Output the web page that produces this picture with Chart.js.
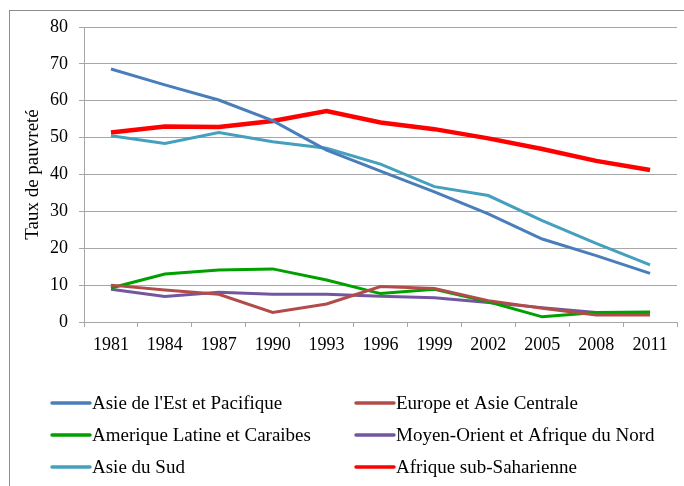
<!DOCTYPE html>
<html>
<head>
<meta charset="utf-8">
<script src="https://cdn.jsdelivr.net/npm/chart.js@4"></script>
<style>
  html, body { margin: 0; padding: 0; background: #fff; }
  #wrap { width: 684px; height: 486px; }
</style>
</head>
<body>
<div id="wrap"><canvas id="chart" width="684" height="486"></canvas></div>
<script>
(function () {
    'use strict';

    // Données (taux de pauvreté, %)
    const years = ['1981', '1984', '1987', '1990', '1993', '1996', '1999', '2002', '2005', '2008', '2011'];
    const asieEst = [68.6, 64.3, 60.2, 54.6, 46.6, 40.9, 35.3, 29.3, 22.5, 18.0, 13.2];
    const europeAsieC = [10.0, 8.7, 7.5, 2.6, 4.9, 9.6, 9.1, 5.8, 3.7, 1.9, 1.9];
    const ameriqueLat = [9.2, 13.0, 14.1, 14.4, 11.4, 7.7, 8.9, 5.5, 1.4, 2.6, 2.7];
    const moyenOrient = [8.9, 6.9, 8.1, 7.5, 7.5, 7.0, 6.6, 5.3, 3.9, 2.6, 2.4];
    const asieSud = [50.5, 48.4, 51.4, 48.9, 47.1, 42.8, 36.7, 34.3, 27.5, 21.3, 15.5];
    const afriqueSS = [51.4, 53.0, 52.9, 54.5, 57.2, 54.1, 52.3, 49.8, 46.9, 43.7, 41.2];
    const yTicks = [0, 10, 20, 30, 40, 50, 60, 70, 80];

    const FONT = '"Liberation Serif", "Times New Roman", serif';
    const GRID = '#a6a6a6';

    const series = [
        { label: "Asie de l'Est et Pacifique", data: asieEst, color: '#4a7ebb', width: 3 },
        { label: 'Europe et Asie Centrale', data: europeAsieC, color: '#b24c49', width: 3 },
        { label: 'Amerique Latine et Caraibes', data: ameriqueLat, color: '#00a000', width: 3 },
        { label: 'Moyen-Orient et Afrique du Nord', data: moyenOrient, color: '#7456a0', width: 3 },
        { label: 'Asie du Sud', data: asieSud, color: '#45a0bd', width: 3 },
        { label: 'Afrique sub-Saharienne', data: afriqueSS, color: '#ff0000', width: 4.5 }
    ];

    const frame = {
        id: 'frame',
        beforeDraw(chart) {
            const c = chart.ctx;
            c.save();
            c.fillStyle = '#fff';
            c.fillRect(0, 0, chart.width, chart.height);
            c.strokeStyle = '#8c8c8c';
            c.lineWidth = 1;
            c.strokeRect(9.5, 10.5, chart.width + 10, chart.height + 10);
            c.restore();
        }
    };

    const legend2col = {
        id: 'legend2col',
        afterDraw(chart) {
            const c = chart.ctx;
            const colX = [52, 356];
            const rowY = [403, 435, 467];
            c.save();
            c.font = '19px ' + FONT;
            c.textBaseline = 'middle';
            c.fillStyle = '#000';
            chart.data.datasets.forEach((ds, i) => {
                const x = colX[i % 2], y = rowY[Math.floor(i / 2)];
                c.strokeStyle = ds.borderColor;
                c.lineWidth = 3.5;
                c.lineCap = 'round';
                c.beginPath();
                c.moveTo(x, y);
                c.lineTo(x + 38, y);
                c.stroke();
                c.fillText(ds.label, x + 40, y + 1);
            });
            c.restore();
        }
    };

    new Chart(document.getElementById('chart'), {
        type: 'line',
        data: {
            labels: years,
            datasets: series.map(s => ({
                label: s.label,
                data: s.data,
                borderColor: s.color,
                backgroundColor: s.color,
                borderWidth: s.width,
                pointRadius: 0,
                tension: 0,
                fill: false
            }))
        },
        options: {
            responsive: false,
            animation: false,
            layout: { padding: { top: 27, right: 7, bottom: 124, left: 0 } },
            plugins: { legend: { display: false }, tooltip: { enabled: false } },
            scales: {
                x: {
                    offset: true,
                    grid: { offset: true, drawOnChartArea: false, drawTicks: true, tickLength: 5, color: GRID },
                    border: { color: GRID, width: 1 },
                    ticks: { color: '#000', font: { family: FONT, size: 18 }, padding: 7, maxRotation: 0, autoSkip: false },
                    afterFit(scale) { scale.height = 40; }
                },
                y: {
                    min: 0,
                    max: 80,
                    afterBuildTicks(scale) { scale.ticks = yTicks.map(v => ({ value: v })); },
                    grid: { color: GRID, tickLength: 5, lineWidth: 1 },
                    border: { color: GRID, width: 1 },
                    ticks: { color: '#000', font: { family: FONT, size: 18 }, padding: 11 },
                    title: { display: true, text: 'Taux de pauvreté', color: '#000', font: { family: FONT, size: 19 }, padding: { top: 22 } },
                    afterFit(scale) { scale.width = 84; }
                }
            }
        },
        plugins: [frame, legend2col]
    });
})();
</script>
</body>
</html>
